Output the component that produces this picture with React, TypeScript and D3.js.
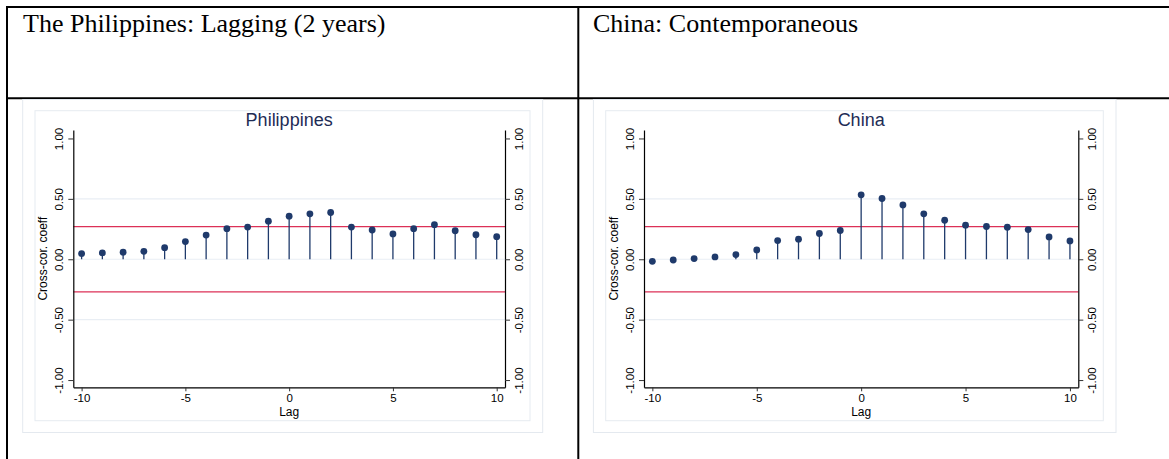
import { useRef, useEffect } from 'react'
import * as d3 from 'd3'

// lags of the cross-correlogram
const lags = [-10, -9, -8, -7, -6, -5, -4, -3, -2, -1, 0, 1, 2, 3, 4, 5, 6, 7, 8, 9, 10]

// cross-correlation coefficients
const philippines = [0.047, 0.052, 0.058, 0.066, 0.096, 0.146, 0.200, 0.253, 0.266, 0.315, 0.357,
  0.376, 0.387, 0.266, 0.242, 0.210, 0.253, 0.286, 0.236, 0.203, 0.187]
const china = [-0.017, -0.006, 0.006, 0.019, 0.039, 0.077, 0.155, 0.166, 0.213, 0.238, 0.533,
  0.503, 0.450, 0.376, 0.323, 0.282, 0.271, 0.265, 0.246, 0.185, 0.152]

// +/- significance band
const bandPhilippines = 0.27
const bandChina = 0.27

const yTicks = [-1, -0.5, 0, 0.5, 1]
const yGrid = [-0.5, 0, 0.5]
const xTicks = [-10, -5, 0, 5, 10]

const headers = ['The Philippines: Lagging (2 years)', 'China: Contemporaneous']
const titles = ['Philippines', 'China']
const series = [philippines, china]
const bands = [bandPhilippines, bandChina]

const W = 1169
const H = 459
const NAVY = '#1f3a6b'
const RED = '#dc3157'
const SANS = '"Liberation Sans", Arial, Helvetica, sans-serif'

// left / right axis x position for each panel
const panels = [
  { axisL: 73.3, axisR: 505 },
  { axisL: 644, axisR: 1078.3 },
]

export default function App() {
  const svgRef = useRef<SVGSVGElement>(null)

  useEffect(() => {
    const svg = d3.select(svgRef.current)
    svg.selectAll('*').remove()

    // table grid of the document
    const table = svg.append('g').attr('stroke', '#000').attr('stroke-width', 2)
    table.append('line').attr('x1', 6).attr('x2', W).attr('y1', 7).attr('y2', 7)
    table.append('line').attr('x1', 6).attr('x2', W).attr('y1', 98.3).attr('y2', 98.3)
    table.append('line').attr('x1', 7).attr('x2', 7).attr('y1', 6).attr('y2', H)
    table.append('line').attr('x1', 578.3).attr('x2', 578.3).attr('y1', 6).attr('y2', H)

    headers.forEach((h, i) => {
      svg.append('text')
        .attr('x', i === 0 ? 23 : 593)
        .attr('y', 32)
        .attr('font-family', '"Liberation Serif", "Times New Roman", serif')
        .attr('font-size', 26)
        .attr('fill', '#000')
        .text(h)
    })

    panels.forEach((p, i) => {
      const g = svg.append('g')
      const data = series[i]

      const x = d3.scaleLinear().domain([-10.4, 10.4]).range([p.axisL, p.axisR])
      const y = d3.scaleLinear().domain([-1.06, 1.07]).range([387.3, 130])

      // graph image borders
      g.append('rect')
        .attr('x', p.axisL - 50.6).attr('y', 99.5)
        .attr('width', p.axisR - p.axisL + 88.3).attr('height', 333)
        .attr('fill', '#fff').attr('stroke', '#e4e9ef').attr('stroke-width', 1)
      g.append('rect')
        .attr('x', p.axisL - 38.3).attr('y', 110.7)
        .attr('width', p.axisR - p.axisL + 63.3).attr('height', 310)
        .attr('fill', '#fff').attr('stroke', '#e6ebf1').attr('stroke-width', 1)

      // grid
      g.append('g').selectAll('line').data(yGrid).enter().append('line')
        .attr('x1', p.axisL).attr('x2', p.axisR)
        .attr('y1', d => y(d)).attr('y2', d => y(d))
        .attr('stroke', '#e9eef4').attr('stroke-width', 1.2)

      // significance band
      g.append('g').selectAll('line').data([bands[i], -bands[i]]).enter().append('line')
        .attr('x1', p.axisL).attr('x2', p.axisR)
        .attr('y1', d => y(d)).attr('y2', d => y(d))
        .attr('stroke', RED).attr('stroke-width', 1.2)

      // spikes
      g.append('g').selectAll('line').data(lags).enter().append('line')
        .attr('x1', d => x(d)).attr('x2', d => x(d))
        .attr('y1', y(0)).attr('y2', (d, k) => y(data[k]))
        .attr('stroke', NAVY).attr('stroke-width', 1.3)

      g.append('g').selectAll('circle').data(lags).enter().append('circle')
        .attr('cx', d => x(d)).attr('cy', (d, k) => y(data[k]))
        .attr('r', 3.4).attr('fill', NAVY)

      const fmt = (d: any) => (+d).toFixed(2)

      const styleAxis = (ax: any) => {
        ax.attr('font-family', SANS).attr('font-size', 11.5)
        ax.select('.domain').attr('stroke', '#000').attr('stroke-width', 1.2)
        ax.selectAll('.tick line').attr('stroke', '#333').attr('stroke-width', 1)
        ax.selectAll('.tick text').attr('fill', '#000')
      }

      const left = g.append('g').attr('transform', `translate(${p.axisL},0)`)
        .call(d3.axisLeft(y).tickValues(yTicks).tickFormat(fmt).tickSize(5).tickSizeOuter(0))
      styleAxis(left)
      left.selectAll('.tick text')
        .attr('transform', 'rotate(-90)').attr('x', 0).attr('y', -14)
        .attr('dy', '0.35em').attr('text-anchor', 'middle')

      const right = g.append('g').attr('transform', `translate(${p.axisR},0)`)
        .call(d3.axisRight(y).tickValues(yTicks).tickFormat(fmt).tickSize(5).tickSizeOuter(0))
      styleAxis(right)
      right.selectAll('.tick text')
        .attr('transform', 'rotate(-90)').attr('x', 0).attr('y', 14)
        .attr('dy', '0.35em').attr('text-anchor', 'middle')

      const bottom = g.append('g').attr('transform', `translate(0,${y.range()[0]})`)
        .call(d3.axisBottom(x).tickValues(xTicks).tickFormat((d: any) => String(d)).tickSize(4).tickSizeOuter(0))
      styleAxis(bottom)
      bottom.selectAll('.tick text').attr('y', 7).attr('dy', '0.71em')

      // titles
      const cx = (p.axisL + p.axisR) / 2
      g.append('text')
        .attr('x', cx).attr('y', 126)
        .attr('text-anchor', 'middle')
        .attr('font-family', SANS).attr('font-size', 18)
        .attr('fill', '#1e2c55')
        .text(titles[i])

      g.append('text')
        .attr('x', cx).attr('y', 416)
        .attr('text-anchor', 'middle')
        .attr('font-family', SANS).attr('font-size', 12)
        .attr('fill', '#000')
        .text('Lag')

      g.append('text')
        .attr('transform', `translate(${p.axisL - 26},${(y.range()[0] + y.range()[1]) / 2}) rotate(-90)`)
        .attr('text-anchor', 'middle')
        .attr('font-family', SANS).attr('font-size', 12)
        .attr('fill', '#000')
        .text('Cross-cor. coeff')
    })
  }, [])

  return (
    <svg ref={svgRef} width={W} height={H}
      style={{ position: 'absolute', left: 0, top: 0, background: '#fff' }} />
  )
}
